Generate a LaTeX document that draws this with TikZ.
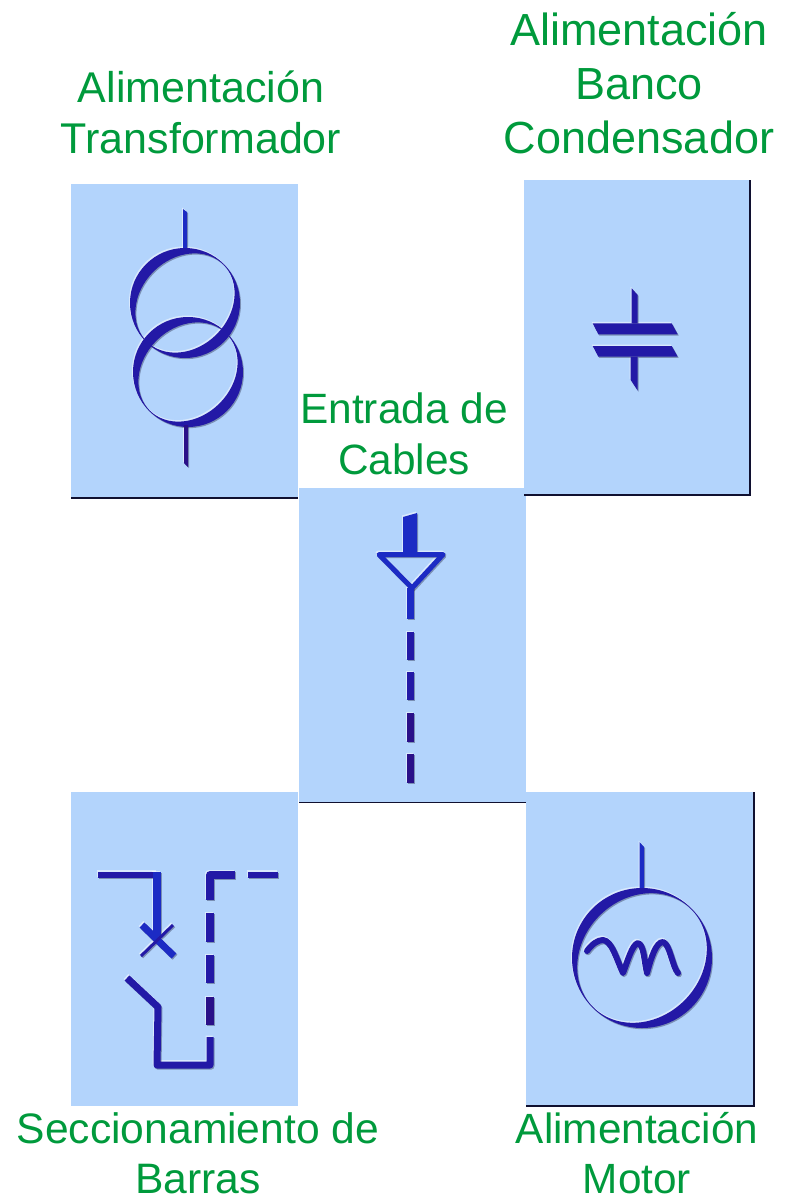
\documentclass[tikz,border=0pt]{standalone}
\usepackage{fontspec}
\setmainfont{Liberation Sans}
\definecolor{panel}{HTML}{B3D4FC}
\definecolor{labelgreen}{HTML}{009A3C}
\definecolor{symA}{HTML}{1C2BC4}
\definecolor{symB}{HTML}{2319A6}
\definecolor{symC}{HTML}{2A1088}
\definecolor{edgeline}{HTML}{101030}
\tikzset{
  x=1pt,y=-1pt,
  panelbox/.style={fill=panel,draw=none},
  edgestroke/.style={draw=edgeline,line width=1.6pt},
  lbl/.style 2 args={text=labelgreen,align=center,inner sep=0pt,font=\fontsize{#1}{#2}\selectfont},
  sym/.style={line width=#1,line join=round,line cap=butt}
}
\newcommand{\allsymbols}{%
% transformer
\fill[symA] (183,209) -- (187,212) -- (187,250) -- (183,250) -- cycle;
\fill[symB,even odd rule] (185,303) circle [radius=55] (185,303) circle [x radius=54.3,y radius=44.5,rotate=45];
\fill[symB,even odd rule] (188,372) circle [radius=55] (188,372) circle [x radius=54.3,y radius=44.5,rotate=45];
\fill[symC] (184,425) -- (188,425) -- (188,467) -- (184,463) -- cycle;
% capacitor
\fill[symB] (631.7,288.3) -- (637.7,295) -- (637.7,323.3) -- (631.7,323.3) -- cycle;
\fill[symB] (592.7,323.3) -- (671.7,323.3) -- (677.7,334.3) -- (598.3,334.3) -- cycle;
\fill[symB] (592.7,346) -- (671.7,346) -- (677.7,356.7) -- (598.3,356.7) -- cycle;
\fill[symB] (630.7,356.7) -- (637.7,356.7) -- (637.7,390.7) -- (630.7,380) -- cycle;
% cable entry
\fill[symA] (403,517) -- (417,513) -- (417,553) -- (403,553) -- cycle;
\draw[symA,sym=5pt] (379,554.5) -- (443,554.5) -- (412,588) -- cycle;
\draw[symA,sym=7pt] (410.5,588) -- (410.5,619);
\draw[symB,sym=7pt] (410.5,632) -- (410.5,660);
\draw[symB,sym=7pt] (410.5,672) -- (410.5,700);
\draw[symC,sym=7pt] (410.5,713) -- (410.5,742);
\draw[symC,sym=7pt] (410.5,754) -- (410.5,783);
% bus section
\draw[symB,sym=6.5pt] (98,875) -- (157,875);
\draw[symA,sym=7.5pt] (157,872) -- (157,936);
\draw[symA,sym=7pt] (142,925) -- (174,956);
\draw[symB,sym=3pt] (173,925) -- (141,956);
\draw[symB,sym=7pt] (127,978) -- (158,1007) -- (157,1065) -- (210,1065) -- (210,1037);
\draw[symB,sym=7.5pt] (235,875) -- (210,875) -- (210,900);
\draw[symB,sym=6.5pt] (248,875) -- (278,875);
\draw[symB,sym=7.5pt] (210,913) -- (210,942);
\draw[symB,sym=7.5pt] (210,955) -- (210,983);
\draw[symC,sym=7.5pt] (210,997) -- (210,1025);
% motor
\fill[symA] (639.5,842) -- (644,847) -- (644,890) -- (639.5,890) -- cycle;
\fill[symB,even odd rule] (642,958) circle [radius=70] (642,958) circle [x radius=69.3,y radius=60,rotate=45];
\draw[symB,line width=6pt,line cap=round,line join=round]
  (587,951) .. controls (592,944) and (598,940) .. (603,940)
  .. controls (612,941) and (616,958) .. (623,973)
  .. controls (628,960) and (632,945) .. (638,943)
  .. controls (644,945) and (644,960) .. (647,973)
  .. controls (651,958) and (656,942) .. (663,942)
  .. controls (670,944) and (672,966) .. (678,973);
}
\begin{document}
\begin{tikzpicture}
\useasboundingbox (0,0) rectangle (790,1197);
% panels
\fill[panelbox] (71,184) rectangle (298,498);
\fill[panelbox] (524,180) rectangle (749,494);
\fill[panelbox] (299,488) rectangle (526,802);
\fill[panelbox] (71,792) rectangle (298,1106);
\fill[panelbox] (526,792) rectangle (754,1106);
\draw[edgestroke] (71,498) -- (298,498);
\draw[edgestroke] (750,180) -- (750,495) -- (524,495);
\draw[edgestroke] (299,802.5) -- (526,802.5);
\draw[edgestroke] (754,792) -- (754,1106) -- (526,1106);
% labels
\node[lbl={43}{51}] (ta) at (201,112) {Alimentación\\Transformador};
\node[lbl={45}{54}] (tb) at (639,83) {Alimentación\\Banco\\Condensador};
\node[lbl={42.4}{51}] (tc) at (404,434) {Entrada de\\Cables};
\node[lbl={42.6}{50}] (td) at (198,1153) {Seccionamiento de\\Barras};
\node[lbl={42.3}{50}] (te) at (637,1153) {Alimentación\\Motor};
% soft rims, then symbols
\begin{scope}[shift={(-1,-1.5)},opacity=.5]
\colorlet{symA}{white}\colorlet{symB}{white}\colorlet{symC}{white}
\allsymbols
\end{scope}
\begin{scope}[shift={(1,1.2)},opacity=.35]
\colorlet{symA}{edgeline}\colorlet{symB}{edgeline}\colorlet{symC}{edgeline}
\allsymbols
\end{scope}
\allsymbols
\end{tikzpicture}
\end{document}
